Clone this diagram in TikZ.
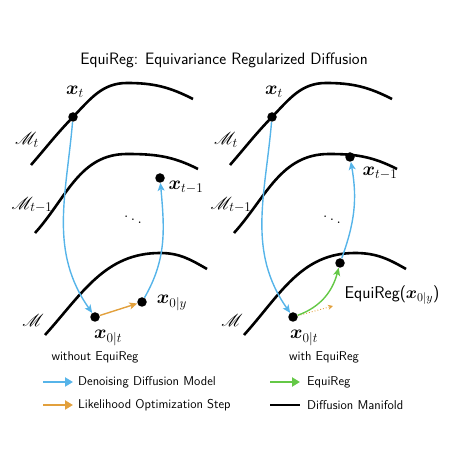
\RequirePackage{fix-cm}
\documentclass[tikz,border=0pt]{standalone}
\usepackage[RGB]{xcolor}
\usepackage{amsmath,bm}
\usepackage{mathrsfs}
\usepackage{tikz}
\usetikzlibrary{arrows.meta}
\definecolor{Denoise}{RGB}{86,180,233}
\definecolor{Likeli}{RGB}{226,160,60}
\definecolor{Equi}{RGB}{100,200,70}
\newcommand{\bx}[1]{$\bm{x}_{#1}$}
\newcommand{\drawthick}{\draw[line width=2.6pt]}
\tikzset{
  dot/.style={circle,fill=black,inner sep=0pt,minimum size=9.5pt},
  mathlab/.style={font=\fontsize{19}{21}\selectfont,inner sep=1pt},
  txt/.style={font=\sffamily\fontsize{12.8}{14}\selectfont,inner sep=1pt},
  denoise/.style={Denoise,line width=1.4pt,-{Stealth[length=8pt,width=7pt,inset=2pt]}},
  likeli/.style={Likeli,line width=1.4pt,-{Stealth[length=8pt,width=7pt,inset=2pt]}},
  equireg/.style={Equi,line width=1.4pt,-{Stealth[length=8pt,width=7pt,inset=2pt]}},
  keyarrow/.style={line width=2.2pt,-{Triangle[length=8pt,width=9pt]}},
}
\begin{document}
\begin{tikzpicture}[x=1pt,y=1pt]
\useasboundingbox (0,0) rectangle (454,455);
\node[font=\sffamily\fontsize{16.5}{19}\selectfont] (title) at (224,395) {EquiReg: Equivariance Regularized Diffusion};
% manifolds, left
\drawthick (31,290) to[out=49,in=226] (73,338) to[out=46,in=180] (127,372) to[out=0,in=153] (193,356);
\drawthick (35,222) to[out=48,in=180] (127,301) to[out=0,in=153] (198,286);
\drawthick (45,120) to[out=48,in=180] (160,202) to[out=0,in=150] (207,186);
% manifolds, right
\drawthick (230,290) to[out=49,in=226] (272,338) to[out=46,in=180] (326,372) to[out=0,in=153] (392,356);
\drawthick (234,222) to[out=48,in=180] (329,301) to[out=0,in=153] (397,286);
\drawthick (244,120) to[out=48,in=180] (355,202) to[out=0,in=150] (406,186);
% left panel
\node[dot] (xtL) at (73,338) {};
\node[dot] (xsL) at (160,277) {};
\node[dot] (x0tL) at (95,138) {};
\node[dot] (x0yL) at (142,153) {};
\node[mathlab] (xtLlab) at (75,363) {\bx{t}};
\node[mathlab] (xsLlab) at (186,268) {\bx{t-1}};
\node[mathlab] (x0tLlab) at (108,117) {\bx{0|t}};
\node[mathlab] (x0yLlab) at (172,152) {\bx{0|y}};
\node[mathlab] (MtL) at (27,315) {$\mathscr{M}_t$};
\node[mathlab] (MsL) at (32,250) {$\mathscr{M}_{t-1}$};
\node[mathlab] (ML) at (33,135) {$\mathscr{M}$};
\node[mathlab] (ddL) at (133,238) {$\ddots$};
\draw[denoise] (xtL) to[out=-95,in=125] (x0tL);
\draw[likeli] (x0tL) -- (x0yL);
\draw[denoise] (x0yL) to[out=60,in=-85] (xsL);
\node[txt] (capL) at (95,98) {without EquiReg};
% right panel
\node[dot] (xtR) at (272,338) {};
\node[dot] (xsR) at (350,298) {};
\node[dot] (x0tR) at (293,138) {};
\node[dot] (eqR) at (340,192) {};
\coordinate (x0yR) at (333,149);
\node[mathlab] (xtRlab) at (274,363) {\bx{t}};
\node[mathlab] (xsRlab) at (380,282) {\bx{t-1}};
\node[mathlab] (x0tRlab) at (304,117) {\bx{0|t}};
\node[font=\sffamily\fontsize{17}{20}\selectfont,inner sep=1pt] (eqRlab) at (392,160) {EquiReg($\bm{x}_{0|y}$)};
\node[mathlab] (MtR) at (226,315) {$\mathscr{M}_t$};
\node[mathlab] (MsR) at (231,250) {$\mathscr{M}_{t-1}$};
\node[mathlab] (MR) at (232,135) {$\mathscr{M}$};
\node[mathlab] (ddR) at (332,238) {$\ddots$};
\draw[denoise] (xtR) to[out=-95,in=125] (x0tR);
\draw[Likeli,line width=0.9pt,dotted,-{Stealth[length=5pt,width=5pt]}] (x0tR) -- (x0yR);
\draw[equireg] (x0tR) to[out=20,in=-105] (eqR);
\draw[denoise] (eqR) to[out=70,in=-80] (xsR);
\node[txt] (capR) at (324,98) {with EquiReg};
% key
\coordinate (k1a) at (43,73); \coordinate (k1b) at (73,73);
\coordinate (k2a) at (43,50); \coordinate (k2b) at (73,50);
\coordinate (k3a) at (270,73); \coordinate (k3b) at (300,73);
\coordinate (k4a) at (270,50); \coordinate (k4b) at (300,50);
\draw[keyarrow,Denoise] (k1a) -- (k1b);
\draw[keyarrow,Likeli] (k2a) -- (k2b);
\draw[keyarrow,Equi] (k3a) -- (k3b);
\draw[line width=2.6pt] (k4a) -- (k4b);
\node[txt,anchor=west] (key1) at (77,73) {Denoising Diffusion Model};
\node[txt,anchor=west] (key2) at (77,50) {Likelihood Optimization Step};
\node[txt,anchor=west] (key3) at (306,73) {EquiReg};
\node[txt,anchor=west] (key4) at (306,50) {Diffusion Manifold};
\end{tikzpicture}
\end{document}
